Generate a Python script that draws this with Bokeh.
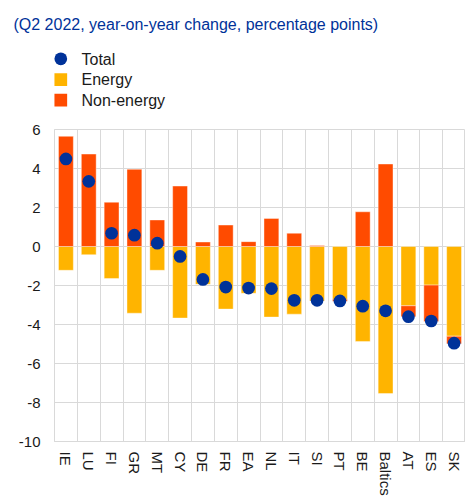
from bokeh.plotting import figure
from bokeh.layouts import column
from bokeh.models import ColumnDataSource, FixedTicker, Range1d
from bokeh.core.properties import value
from bokeh.embed import file_html
from bokeh.resources import INLINE

# ---- data ----
countries = ["IE", "LU", "FI", "GR", "MT", "CY", "DE", "FR", "EA", "NL",
             "IT", "SI", "PT", "BE", "Baltics", "AT", "ES", "SK"]
energy = [-1.22, -0.42, -1.64, -3.42, -1.22, -3.67, -1.94, -3.21, -2.40, -3.62,
          -3.47, -2.80, -2.71, -4.87, -7.54, -3.04, -1.98, -4.60]
non_energy = [5.65, 4.74, 2.27, 3.96, 1.36, 3.10, 0.23, 1.10, 0.25, 1.44,
              0.68, 0.05, -0.10, 1.78, 4.23, -0.56, -1.87, -0.39]
total = [4.49, 3.34, 0.68, 0.58, 0.17, -0.51, -1.69, -2.08, -2.13, -2.16,
         -2.76, -2.76, -2.79, -3.06, -3.30, -3.60, -3.82, -4.96]
y_ticks = [-10, -8, -6, -4, -2, 0, 2, 4, 6]
series_names = ["Total", "Energy", "Non-energy"]
title_text = "(Q2 2022, year-on-year change, percentage points)"

# ---- styles ----
BLUE = "#003299"
YELLOW = "#FFB400"
ORANGE = "#FF4B00"
GRID = "#d9d9d9"
TEXT = "#1a1a1a"
FONT = "Liberation Sans"

W = 465
TOP_H = 119
MAIN_H = 379

# ---------- header figure: title + legend (pixel-like coordinates) ----------
top = figure(width=W, height=TOP_H, output_backend="svg", toolbar_location=None,
             x_range=Range1d(0, W), y_range=Range1d(TOP_H, 0), title=None,
             x_axis_location=None, y_axis_location=None, min_border=0)
top.min_border_left = 0
top.min_border_right = 0
top.min_border_top = 0
top.min_border_bottom = 0
top.frame_align = False
top.outline_line_color = None
top.grid.visible = False

top.text(x=[13], y=[24], text=[title_text], text_font=value(FONT),
         text_font_size=value("16px"), text_color=BLUE, text_baseline="alphabetic")

leg_marker_y = [58.3, 79.2, 99.7]
leg_text_y = [58.5, 79.2, 99.5]
top.scatter(x=[60.3], y=[leg_marker_y[0]], marker="circle", size=12.7,
            fill_color=BLUE, line_color=None)
top.scatter(x=[60.3, 60.3], y=leg_marker_y[1:], marker="square", size=12.7,
            fill_color=[YELLOW, ORANGE], line_color=None)
top.text(x=[81] * 3, y=leg_text_y, text=series_names, text_font=value(FONT),
         text_font_size=value("16px"), text_color=TEXT, text_baseline="alphabetic")

# ---------- main chart ----------
xpos = list(range(1, len(countries) + 1))
ne_bottom = [0 if n >= 0 else e for e, n in zip(energy, non_energy)]
ne_top = [n if n >= 0 else e + n for e, n in zip(energy, non_energy)]

src = ColumnDataSource(dict(x=xpos, energy=energy, zero=[0] * len(xpos),
                            ne_bottom=ne_bottom, ne_top=ne_top, total=total))

p = figure(width=W, height=MAIN_H, output_backend="svg", toolbar_location=None,
           x_range=Range1d(0.5, len(countries) + 0.5), y_range=Range1d(-10, 6))
p.frame_align = False
p.min_border_left = 54
p.min_border_right = 0
p.min_border_top = 10
p.min_border_bottom = 55
p.outline_line_color = GRID

p.vbar(x="x", bottom="zero", top="energy", width=0.65, source=src,
       fill_color=YELLOW, line_color="white", line_alpha=0.4, line_width=1)
p.vbar(x="x", bottom="ne_bottom", top="ne_top", width=0.65, source=src,
       fill_color=ORANGE, line_color="white", line_alpha=0.4, line_width=1)
p.scatter(x="x", y="total", source=src, size=12.7, marker="circle",
          fill_color=BLUE, line_color=None)

# grids
p.ygrid.ticker = FixedTicker(ticks=y_ticks)
p.ygrid.grid_line_color = GRID
p.xgrid.ticker = FixedTicker(ticks=[i + 0.5 for i in range(0, len(countries) + 1)])
p.xgrid.grid_line_color = GRID

# axes
p.yaxis.ticker = FixedTicker(ticks=y_ticks)
p.yaxis.major_label_overrides = {t: str(t) for t in y_ticks}
p.xaxis.ticker = FixedTicker(ticks=xpos)
p.xaxis.major_label_overrides = {x: c for x, c in zip(xpos, countries)}
p.xaxis.major_label_orientation = "vertical"
for ax in (p.xaxis[0], p.yaxis[0]):
    ax.axis_line_color = GRID
    ax.major_tick_line_color = None
    ax.minor_tick_line_color = None
    ax.major_tick_out = 0
    ax.major_tick_in = 0
    ax.minor_tick_out = 0
    ax.major_label_text_font = FONT
    ax.major_label_text_font_size = "15px"
    ax.major_label_text_color = TEXT
p.yaxis.major_label_standoff = 14
p.xaxis.major_label_standoff = 10

layout = column(top, p, spacing=0)
open("out.html", "w").write(file_html(layout, INLINE))
